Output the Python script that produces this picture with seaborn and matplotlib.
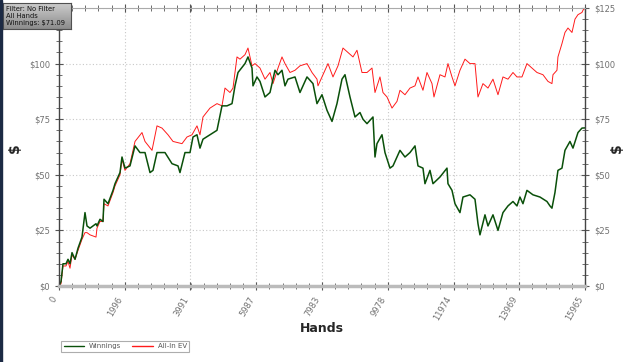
import numpy as np
import pandas as pd
import matplotlib
matplotlib.use("Agg")
import matplotlib.pyplot as plt
from matplotlib.ticker import MultipleLocator, FixedLocator, FuncFormatter
from matplotlib.patches import Rectangle
import seaborn as sns

# ---- data ----
win_hands = [0, 61, 121, 212, 273, 334, 395, 486, 577, 698, 789, 850, 941, 1123, 1153, 1244,
             1335, 1366, 1487, 1639, 1700, 1851, 1912, 2003, 2155, 2307, 2458, 2610, 2762,
             2853, 2974, 3217, 3430, 3612, 3672, 3824, 3976, 4067, 4188, 4279, 4370, 4583,
             4795, 4947, 5099, 5251, 5342, 5433, 5645, 5736, 5858, 5888, 6009, 6100, 6252,
             6404, 6556, 6647, 6768, 6859, 6950, 7163, 7314, 7527, 7709, 7830, 7982, 8134,
             8286, 8437, 8589, 8680, 8832, 8984, 9135, 9226, 9348, 9530, 9591, 9651, 9803,
             9894, 10046, 10137, 10349, 10501, 10653, 10805, 10896, 11047, 11108, 11260,
             11351, 11563, 11776, 11806, 11928, 12019, 12170, 12261, 12474, 12626, 12717,
             12777, 12929, 13020, 13172, 13324, 13475, 13627, 13779, 13900, 13991, 14082,
             14203, 14386, 14598, 14810, 14902, 14962, 15053, 15144, 15266, 15357, 15509,
             15600, 15752, 15873, 15965]
win_vals = [0, 2, 10, 10, 12, 10, 15, 12, 17, 22, 33, 27, 26, 28, 27, 30,
            29, 39, 37, 43, 46, 51, 58, 53, 54, 63, 60, 60, 51,
            52, 60, 60, 55, 54, 51, 60, 60, 67, 68, 62, 66, 68,
            70, 81, 81, 82, 90, 96, 100, 103, 98, 90, 94, 92, 85,
            87, 97, 95, 97, 90, 93, 94, 87, 94, 91, 82, 86, 79,
            74, 82, 93, 95, 85, 76, 78, 75, 73, 76, 58, 64, 68,
            60, 53, 54, 61, 58, 60, 63, 54, 53, 46, 52,
            46, 49, 53, 46, 43, 37, 33, 40, 41, 39, 28,
            23, 32, 27, 32, 25, 33, 36, 38, 36, 40, 37,
            43, 41, 40, 38, 36, 35, 42, 52, 53, 61, 65,
            62, 69, 71, 71.09]

ev_hands = [0, 61, 121, 212, 273, 334, 395, 486, 577, 698, 789, 850, 941, 1123, 1153, 1244,
            1335, 1366, 1487, 1639, 1700, 1851, 1912, 2003, 2155, 2307, 2519, 2610, 2823,
            2974, 3126, 3308, 3460, 3733, 3885, 4037, 4188, 4279, 4370, 4583, 4795, 4947,
            5038, 5190, 5281, 5402, 5493, 5645, 5736, 5858, 5949, 6100, 6252, 6404, 6495,
            6647, 6768, 6859, 7011, 7163, 7314, 7527, 7679, 7830, 7861, 8012, 8164, 8316,
            8468, 8619, 8771, 8923, 9044, 9196, 9348, 9500, 9591, 9742, 9833, 9955, 10107,
            10258, 10349, 10501, 10653, 10805, 10896, 11047, 11169, 11321, 11381, 11563,
            11715, 11806, 11928, 12019, 12170, 12322, 12474, 12626, 12717, 12868, 13020,
            13172, 13324, 13475, 13627, 13779, 13900, 14052, 14203, 14355, 14507, 14689,
            14841, 14962, 14993, 15114, 15144, 15205, 15266, 15357, 15448, 15570, 15661,
            15752, 15873, 15903, 15965]
ev_vals = [0, 1, 9, 9, 11, 8, 14, 12, 16, 21, 24, 24, 23, 22, 26, 29,
           29, 37, 36, 42, 45, 50, 57, 52, 55, 65, 69, 65, 61,
           72, 71, 68, 65, 64, 67, 68, 72, 68, 76, 80, 82, 81,
           89, 87, 89, 103, 102, 104, 107, 99, 100, 98, 93, 96, 91,
           98, 103, 100, 96, 97, 99, 100, 96, 93, 90, 95, 100, 94,
           99, 107, 105, 103, 106, 96, 96, 98, 87, 94, 87, 85, 80,
           83, 88, 86, 89, 90, 94, 88, 96, 91, 85, 95,
           94, 100, 94, 90, 97, 102, 100, 100, 85, 91, 89,
           93, 86, 94, 93, 96, 94, 94, 100, 98, 96, 95,
           92, 91, 95, 97, 103, 106, 109, 114, 116, 114, 120,
           122, 123, 124, 125]

x_ticks = [0, 1996, 3991, 5987, 7983, 9978, 11974, 13969, 15965]
y_ticks = [0, 25, 50, 75, 100, 125]
series_names = ["Winnings", "All-In EV"]
tooltip_lines = ["Filter: No Filter", "All Hands", "Winnings: $71.09"]

df = pd.concat([
    pd.DataFrame({"Hands": win_hands, "value": win_vals, "series": series_names[0]}),
    pd.DataFrame({"Hands": ev_hands, "value": ev_vals, "series": series_names[1]}),
])

sns.set_theme(style="white")
plt.rcParams["font.family"] = ["DejaVu Sans"]

fig = plt.figure(figsize=(6.4, 3.62), dpi=100)
ax = fig.add_axes([59/640, 76/362, 526/640, 278/362])

palette = {"Winnings": "#0a500a", "All-In EV": "#ff1a1a"}
sns.lineplot(data=df[df.series == "All-In EV"], x="Hands", y="value", color=palette["All-In EV"],
             lw=0.7, ax=ax, estimator=None, sort=True, legend=False)
sns.lineplot(data=df[df.series == "Winnings"], x="Hands", y="value", color=palette["Winnings"],
             lw=1.1, ax=ax, estimator=None, sort=True, legend=False)

ax.set_xlim(0, 15965)
ax.set_ylim(0, 125)
ax.xaxis.set_major_locator(FixedLocator(x_ticks))
ax.xaxis.set_minor_locator(FixedLocator(np.arange(0, 15966, 15965/40)))
ax.yaxis.set_major_locator(FixedLocator(y_ticks))
ax.yaxis.set_minor_locator(MultipleLocator(5))
ax.yaxis.set_major_formatter(FuncFormatter(lambda v, p: f"${int(v)}"))

ax.grid(True, which="major", color="#c8c8c8", linestyle=(0, (1, 2)), lw=0.8)
ax.tick_params(axis="both", which="both", direction="inout", color="#555555",
               labelcolor="#707070", labelsize=6)
ax.tick_params(axis="both", which="major", length=6, width=0.8)
ax.tick_params(axis="both", which="minor", length=4, width=0.6)
ax.tick_params(axis="y", which="both", left=True, right=True, labelleft=True, labelright=True)
ax.tick_params(axis="x", which="both", bottom=True, top=True)
for lab in ax.get_xticklabels():
    lab.set_rotation(60)
    lab.set_ha("right")
    lab.set_va("top")

# the left "$125" label sits under the tooltip box in the reference
fig.canvas.draw()
ax.yaxis.get_major_ticks()[-1].label1.set_visible(False)

for s in ["left", "right"]:
    ax.spines[s].set_color("#444444")
    ax.spines[s].set_linewidth(1.0)
ax.spines["top"].set_color("#aaaaaa")
ax.spines["top"].set_linewidth(0.8)
ax.spines["bottom"].set_color("#bbbbbb")
ax.spines["bottom"].set_linewidth(2.5)

ax.set_xlabel("Hands", fontsize=9, fontweight="bold")
ax.xaxis.set_label_coords(0.5, -(328 - 286) / 278, transform=ax.transAxes)
ax.xaxis.label.set_va("center")
ax.set_ylabel("$", fontsize=10, fontweight="bold", rotation=90, va="center")
ax.yaxis.set_label_coords((15 - 59) / 526, (286 - 148) / 278)

ax.text((617 - 59) / 526, (286 - 148) / 278, "$", transform=ax.transAxes,
        fontsize=10, fontweight="bold", rotation=90, ha="center", va="center")

# legend below
handles = [plt.Line2D([], [], color=palette[n], lw=1.0) for n in series_names]
leg = fig.legend(handles, series_names, loc="lower left",
                 bbox_to_anchor=(58/640, 7/362), ncol=2, fontsize=5,
                 frameon=True, fancybox=False, edgecolor="#999999",
                 handlelength=3.0, columnspacing=1.5, borderpad=0.3,
                 handletextpad=0.7, labelcolor="#555555")
leg.get_frame().set_linewidth(0.8)

# tooltip box with gradient
tax = fig.add_axes([3/640, 1 - 29/362, 68/640, 26/362])
grad = np.linspace(0.80, 0.55, 50).reshape(-1, 1)
tax.imshow(grad, cmap="gray", vmin=0, vmax=1, aspect="auto", extent=[0, 1, 0, 1])
tax.set_xticks([]); tax.set_yticks([])
for s in tax.spines.values():
    s.set_color("#505050"); s.set_linewidth(0.8)
tax.text(0.04, 0.5, "\n".join(tooltip_lines), fontsize=4.9, color="#111111",
         va="center", ha="left", linespacing=1.25, transform=tax.transAxes)

# window edge strip
fig.patches.append(Rectangle((0, 0), 2/640, 1, transform=fig.transFigure,
                             color="#1c2a44", zorder=10))

fig.savefig("out.png", dpi=100)
